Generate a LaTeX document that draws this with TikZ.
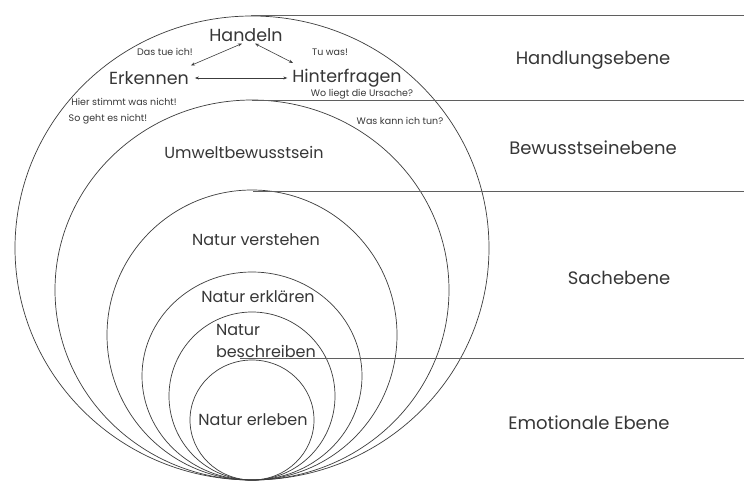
\documentclass[tikz,border=0pt]{standalone}
\usepackage{fontspec}
\setmainfont{Poppins}
\usetikzlibrary{arrows.meta}
\tikzset{
  lbl/.style={text=textColor,inner sep=0pt,outer sep=0pt,anchor=center},
  biglbl/.style={lbl,font=\fontsize{17.5}{17.5}\selectfont},
  ringlbl/.style={lbl,font=\fontsize{16}{22}\selectfont},
  levellbl/.style={lbl,font=\fontsize{18}{18}\selectfont},
  tinylbl/.style={lbl,font=\fontsize{9.5}{10}\selectfont},
  ring/.style={draw=drawColor,line width=0.7pt},
  level/.style={draw=lineColor,line width=1.0pt},
  arr/.style={draw=drawColor,line width=0.6pt,{Stealth[length=4pt]}-{Stealth[length=4pt]}}
}
\begin{document}
\begin{tikzpicture}[x=1pt,y=1pt]
\definecolor{fillColor}{RGB}{255,255,255}
\definecolor{drawColor}{RGB}{60,60,60}
\definecolor{lineColor}{RGB}{95,95,95}
\definecolor{textColor}{RGB}{55,55,55}
\path[use as bounding box,fill=fillColor] (0,0) rectangle (744,483);

% rings, all touching at the bottom
\foreach \rx/\ry in {237/232,197/190,145/145,110/104,83/84,62/60}
  \path[ring] (252,3+\ry) ellipse [x radius=\rx, y radius=\ry];

% level lines
\path[level] (251,467) -- (744,467);
\path[level] (252,382) -- (744,382);
\path[level] (253,292) -- (744,292);
\path[level] (240,125) -- (744,125);

% level names
\node[levellbl] (hand_eb) at (593,423) {Handlungsebene};
\node[levellbl] (bew_eb) at (593,335) {Bewusstseinebene};
\node[levellbl] (sach_eb) at (619,205) {Sachebene};
\node[levellbl] (emo_eb) at (589,60) {Emotionale Ebene};

% top ring
\node[biglbl] (handeln) at (246,448) {Handeln};
\node[biglbl] (erkennen) at (149,405) {Erkennen};
\node[biglbl] (hinterfragen) at (347,405) {Hinterfragen};
\node[tinylbl] (tue) at (165,431) {Das tue ich!};
\node[tinylbl] (tuwas) at (330,431) {Tu was!};
\node[tinylbl] (ursache) at (362,389) {Wo liegt die Ursache?};
\node[tinylbl] (stimmt) at (124,381) {Hier stimmt was nicht!};
\node[tinylbl] (geht) at (108,364) {So geht es nicht!};
\node[tinylbl] (tun) at (400,362) {Was kann ich tun?};

\path[arr] ([xshift=6pt]erkennen.east) -- ([xshift=-5pt]hinterfragen.west);
\path[arr] ([shift={(2,6)}]erkennen.north east) -- ([shift={(-4,-2)}]handeln.south);
\path[arr] ([shift={(9,-2)}]handeln.south) -- ([shift={(-54,6)}]hinterfragen.north);

% inner rings
\node[ringlbl] (umwelt) at (244,331) {Umweltbewusstsein};
\node[ringlbl] (verstehen) at (256,243) {Natur verstehen};
\node[ringlbl] (erklaeren) at (258,186) {Natur erklären};
\node[ringlbl,anchor=north west,align=left] (beschreiben) at (216,159) {Natur\\beschreiben};
\node[ringlbl] (erleben) at (253,63) {Natur erleben};
\end{tikzpicture}
\end{document}
